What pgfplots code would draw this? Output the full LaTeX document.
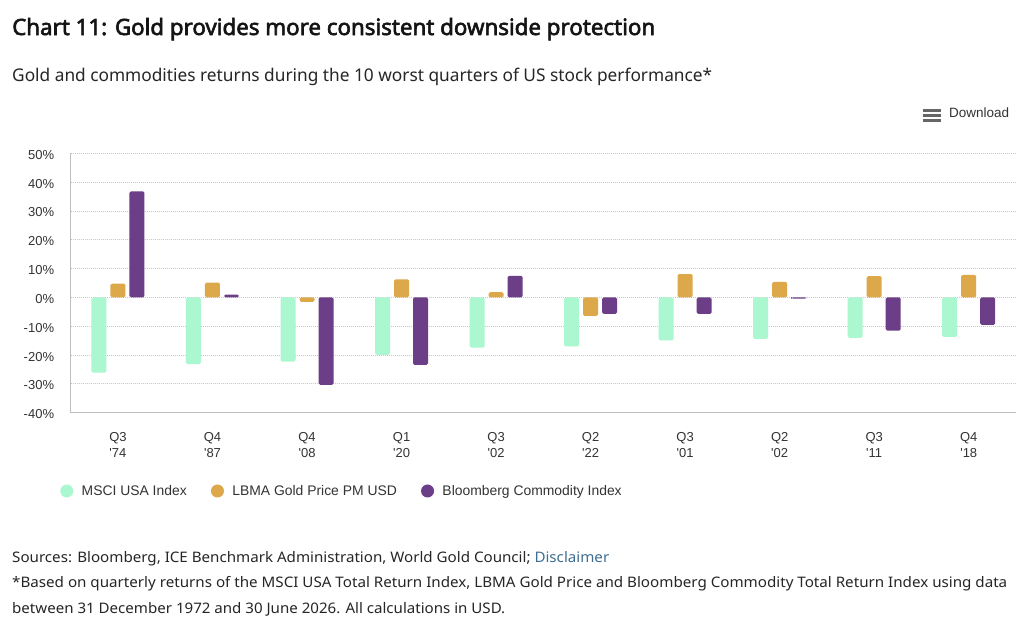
\documentclass[border=0pt]{standalone}
\usepackage{fontspec}
\usepackage{graphicx}
\usepackage{pgfplots}
\pgfplotsset{compat=1.18}
\setmainfont{Noto Sans}
\newfontfamily\titlefont{Noto Sans}[FakeBold=2.6]
\newfontfamily\arial{Liberation Sans}
\definecolor{mint}{RGB}{170,247,208}
\definecolor{goldc}{RGB}{220,168,74}
\definecolor{purp}{RGB}{108,62,135}
\definecolor{txt}{RGB}{51,51,51}
\definecolor{gridc}{RGB}{200,200,200}
\definecolor{axc}{RGB}{190,190,190}
\definecolor{disc}{RGB}{62,110,145}
\begin{document}
\begin{tikzpicture}
\path[use as bounding box, fill=white] (0pt,0pt) rectangle (1024pt,-622pt);
% titles
\node[anchor=base west, inner sep=0pt, text=black!92] at (12pt,-35pt)
  {\resizebox{643pt}{\height}{\titlefont\fontsize{22.4}{26}\selectfont Chart 11: Gold provides more consistent downside protection}};
\node[anchor=base west, inner sep=0pt, text=black!85] at (12pt,-81.7pt)
  {\resizebox{700pt}{\height}{\fontsize{17.5}{20}\selectfont Gold and commodities returns during the 10 worst quarters of US stock performance*}};
% download
\fill[black!60] (923.3pt,-108.5pt) rectangle (941pt,-111.5pt);
\fill[black!60] (923.3pt,-113.5pt) rectangle (941pt,-116.5pt);
\fill[black!60] (923.3pt,-118.5pt) rectangle (941pt,-121.5pt);
\node[anchor=base west, inner sep=0pt, text=txt] at (949pt,-117.7pt)
  {\resizebox{60pt}{\height}{\arial\fontsize{13.5}{16}\selectfont Download}};
% footer
\node[anchor=base west, inner sep=0pt, text=black!85] at (12pt,-562pt)
  {\resizebox{597pt}{\height}{\fontsize{14.5}{17}\selectfont Sources: Bloomberg, ICE Benchmark Administration, World Gold Council; \textcolor{disc}{Disclaimer}}};
\node[anchor=base west, inner sep=0pt, text=black!85] at (12pt,-587.7pt)
  {\resizebox{995pt}{\height}{\fontsize{14.5}{17}\selectfont *Based on quarterly returns of the MSCI USA Total Return Index, LBMA Gold Price and Bloomberg Commodity Total Return Index using data}};
\node[anchor=base west, inner sep=0pt, text=black!85] at (12pt,-613.3pt)
  {\resizebox{493pt}{\height}{\fontsize{14.5}{17}\selectfont between 31 December 1972 and 30 June 2026. All calculations in USD.}};
\begin{axis}[
  at={(70.7pt,-412.7pt)}, anchor=south west,
  scale only axis, width=945.3pt, height=259.4pt,
  ymin=-40, ymax=50,
  xmin=-0.5, xmax=9.5,
  ybar=4pt, bar width=15pt,
  xtick={0,...,9},
  xticklabels={{Q3\\\textquotesingle74},{Q4\\\textquotesingle87},{Q4\\\textquotesingle08},{Q1\\\textquotesingle20},{Q3\\\textquotesingle02},{Q2\\\textquotesingle22},{Q3\\\textquotesingle01},{Q2\\\textquotesingle02},{Q3\\\textquotesingle11},{Q4\\\textquotesingle18}},
  ytick={-40,-30,...,50},
  yticklabels={-40\%,-30\%,-20\%,-10\%,0\%,10\%,20\%,30\%,40\%,50\%},
  xticklabel style={align=center, font=\arial\fontsize{13}{16.3}\selectfont, text=txt, yshift=-15.7pt},
  yticklabel style={font=\arial\fontsize{13}{16}\selectfont, text=txt, xshift=-13.1pt, yshift=-1.5pt},
  major tick length=0pt,
  ymajorgrids, major grid style={color=gridc, line width=0.8pt, dash pattern=on 1pt off 1pt},
  axis x line*=bottom, axis y line*=left,
  axis line style={-, color=axc, line width=1pt},
  legend columns=3,
  legend style={at={(axis description cs:-0.01122,-0.3018)}, anchor=west, draw=none, fill=none,
    inner sep=0pt, font=\arial\fontsize{13.9}{16}\selectfont, text=txt,
    nodes={inner sep=0pt},
    /tikz/every odd column/.append style={column sep=8.4pt},
    /tikz/every even column/.append style={column sep=24.2pt}},
  clip=false,
]
\addplot[fill=mint, draw=none, rounded corners=1.5pt,
  legend image code/.code={\fill[mint] (6.5pt,0pt) circle (6.5pt);}]
  coordinates {(0,-26.1) (1,-23.1) (2,-22.3) (3,-19.9) (4,-17.4) (5,-17.0) (6,-14.9) (7,-14.4) (8,-14.0) (9,-13.7)};
\addlegendentry{MSCI USA Index}
\addplot[fill=goldc, draw=none, rounded corners=1.5pt,
  legend image code/.code={\fill[goldc] (6.5pt,0pt) circle (6.5pt);}]
  coordinates {(0,4.8) (1,5.1) (2,-1.5) (3,6.3) (4,1.8) (5,-6.4) (6,8.1) (7,5.4) (8,7.4) (9,7.8)};
\addlegendentry{LBMA Gold Price PM USD}
\addplot[fill=purp, draw=none, rounded corners=1.5pt,
  legend image code/.code={\fill[purp] (6.5pt,0pt) circle (6.5pt);}]
  coordinates {(0,36.8) (1,1.0) (2,-30.3) (3,-23.4) (4,7.5) (5,-5.7) (6,-5.7) (7,-0.4) (8,-11.5) (9,-9.5)};
\addlegendentry{Bloomberg Commodity Index}
\end{axis}
\end{tikzpicture}
\end{document}
